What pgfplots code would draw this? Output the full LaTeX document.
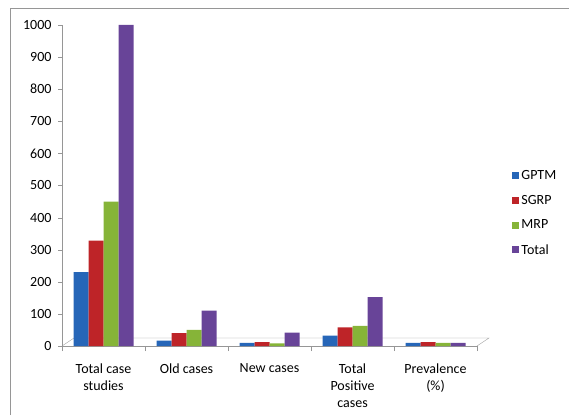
\documentclass[border=0pt]{standalone}
\usepackage{pgfplots}
\pgfplotsset{compat=1.18}
\usepackage{fontspec}
\setmainfont{Carlito}
\definecolor{cBlue}{RGB}{38,102,184}
\definecolor{cRed}{RGB}{190,36,40}
\definecolor{cGreen}{RGB}{134,180,56}
\definecolor{cPurple}{RGB}{104,68,152}
\definecolor{cGrid}{RGB}{150,150,150}
\begin{document}
\begin{tikzpicture}[x=1pt,y=1pt]
\useasboundingbox (0,0) rectangle (569,415);
\draw[cGrid, line width=0.8pt] (10,0) -- (10,407) -- (569,407);
\begin{axis}[
  at={(62pt,69pt)}, anchor=south west,
  scale only axis, width=415pt, height=321pt,
  xmin=-0.5, xmax=4.5, ymin=0, ymax=1000,
  ybar=0pt, bar width=15pt,
  axis line style={cGrid},
  axis x line*=bottom, axis y line*=left,
  ytick={0,100,...,1000},
  xtick={0,1,2,3,4},
  minor xtick={-0.5,0.5,1.5,2.5,3.5,4.5},
  major x tick style={draw=none},
  minor x tick style={cGrid},
  y tick style={cGrid},
  tick align=outside,
  major tick length=4pt, minor tick length=5pt,
  xticklabels={{Total case\\studies},{Old cases},{New cases},{Total\\Positive\\cases},{Prevalence\\(\%)}},
  xticklabel style={align=center, yshift=-10pt, font=\fontsize{14}{17}\selectfont},
  yticklabel style={font=\fontsize{14}{14}\selectfont, xshift=-3pt},
  /pgf/number format/assume math mode=true,
  /pgf/number format/1000 sep={},
  legend style={at={(1.085,0.414)}, anchor=west, draw=none, fill=none,
    font=\fontsize{14}{14}\selectfont, row sep=10pt, cells={anchor=west},
    inner sep=0pt},
  legend image code/.code={\fill[#1] (0pt,-3.5pt) rectangle (7pt,3.5pt);},
  clip=false,
]
\draw[cGrid] (axis cs:-0.5,0) -- ++(12pt,8pt) -- ++(415pt,0pt) -- ++(-12pt,-8pt);
\addplot[fill=cBlue, draw=none] coordinates {(0,230) (1,17) (2,10) (3,32) (4,10)};
\addplot[fill=cRed, draw=none] coordinates {(0,328) (1,40) (2,12) (3,58) (4,12)};
\addplot[fill=cGreen, draw=none] coordinates {(0,450) (1,50) (2,8) (3,63) (4,10)};
\addplot[fill=cPurple, draw=none] coordinates {(0,1000) (1,110) (2,42) (3,152) (4,10)};
\legend{GPTM,SGRP,MRP,Total}
\end{axis}
\end{tikzpicture}
\end{document}
